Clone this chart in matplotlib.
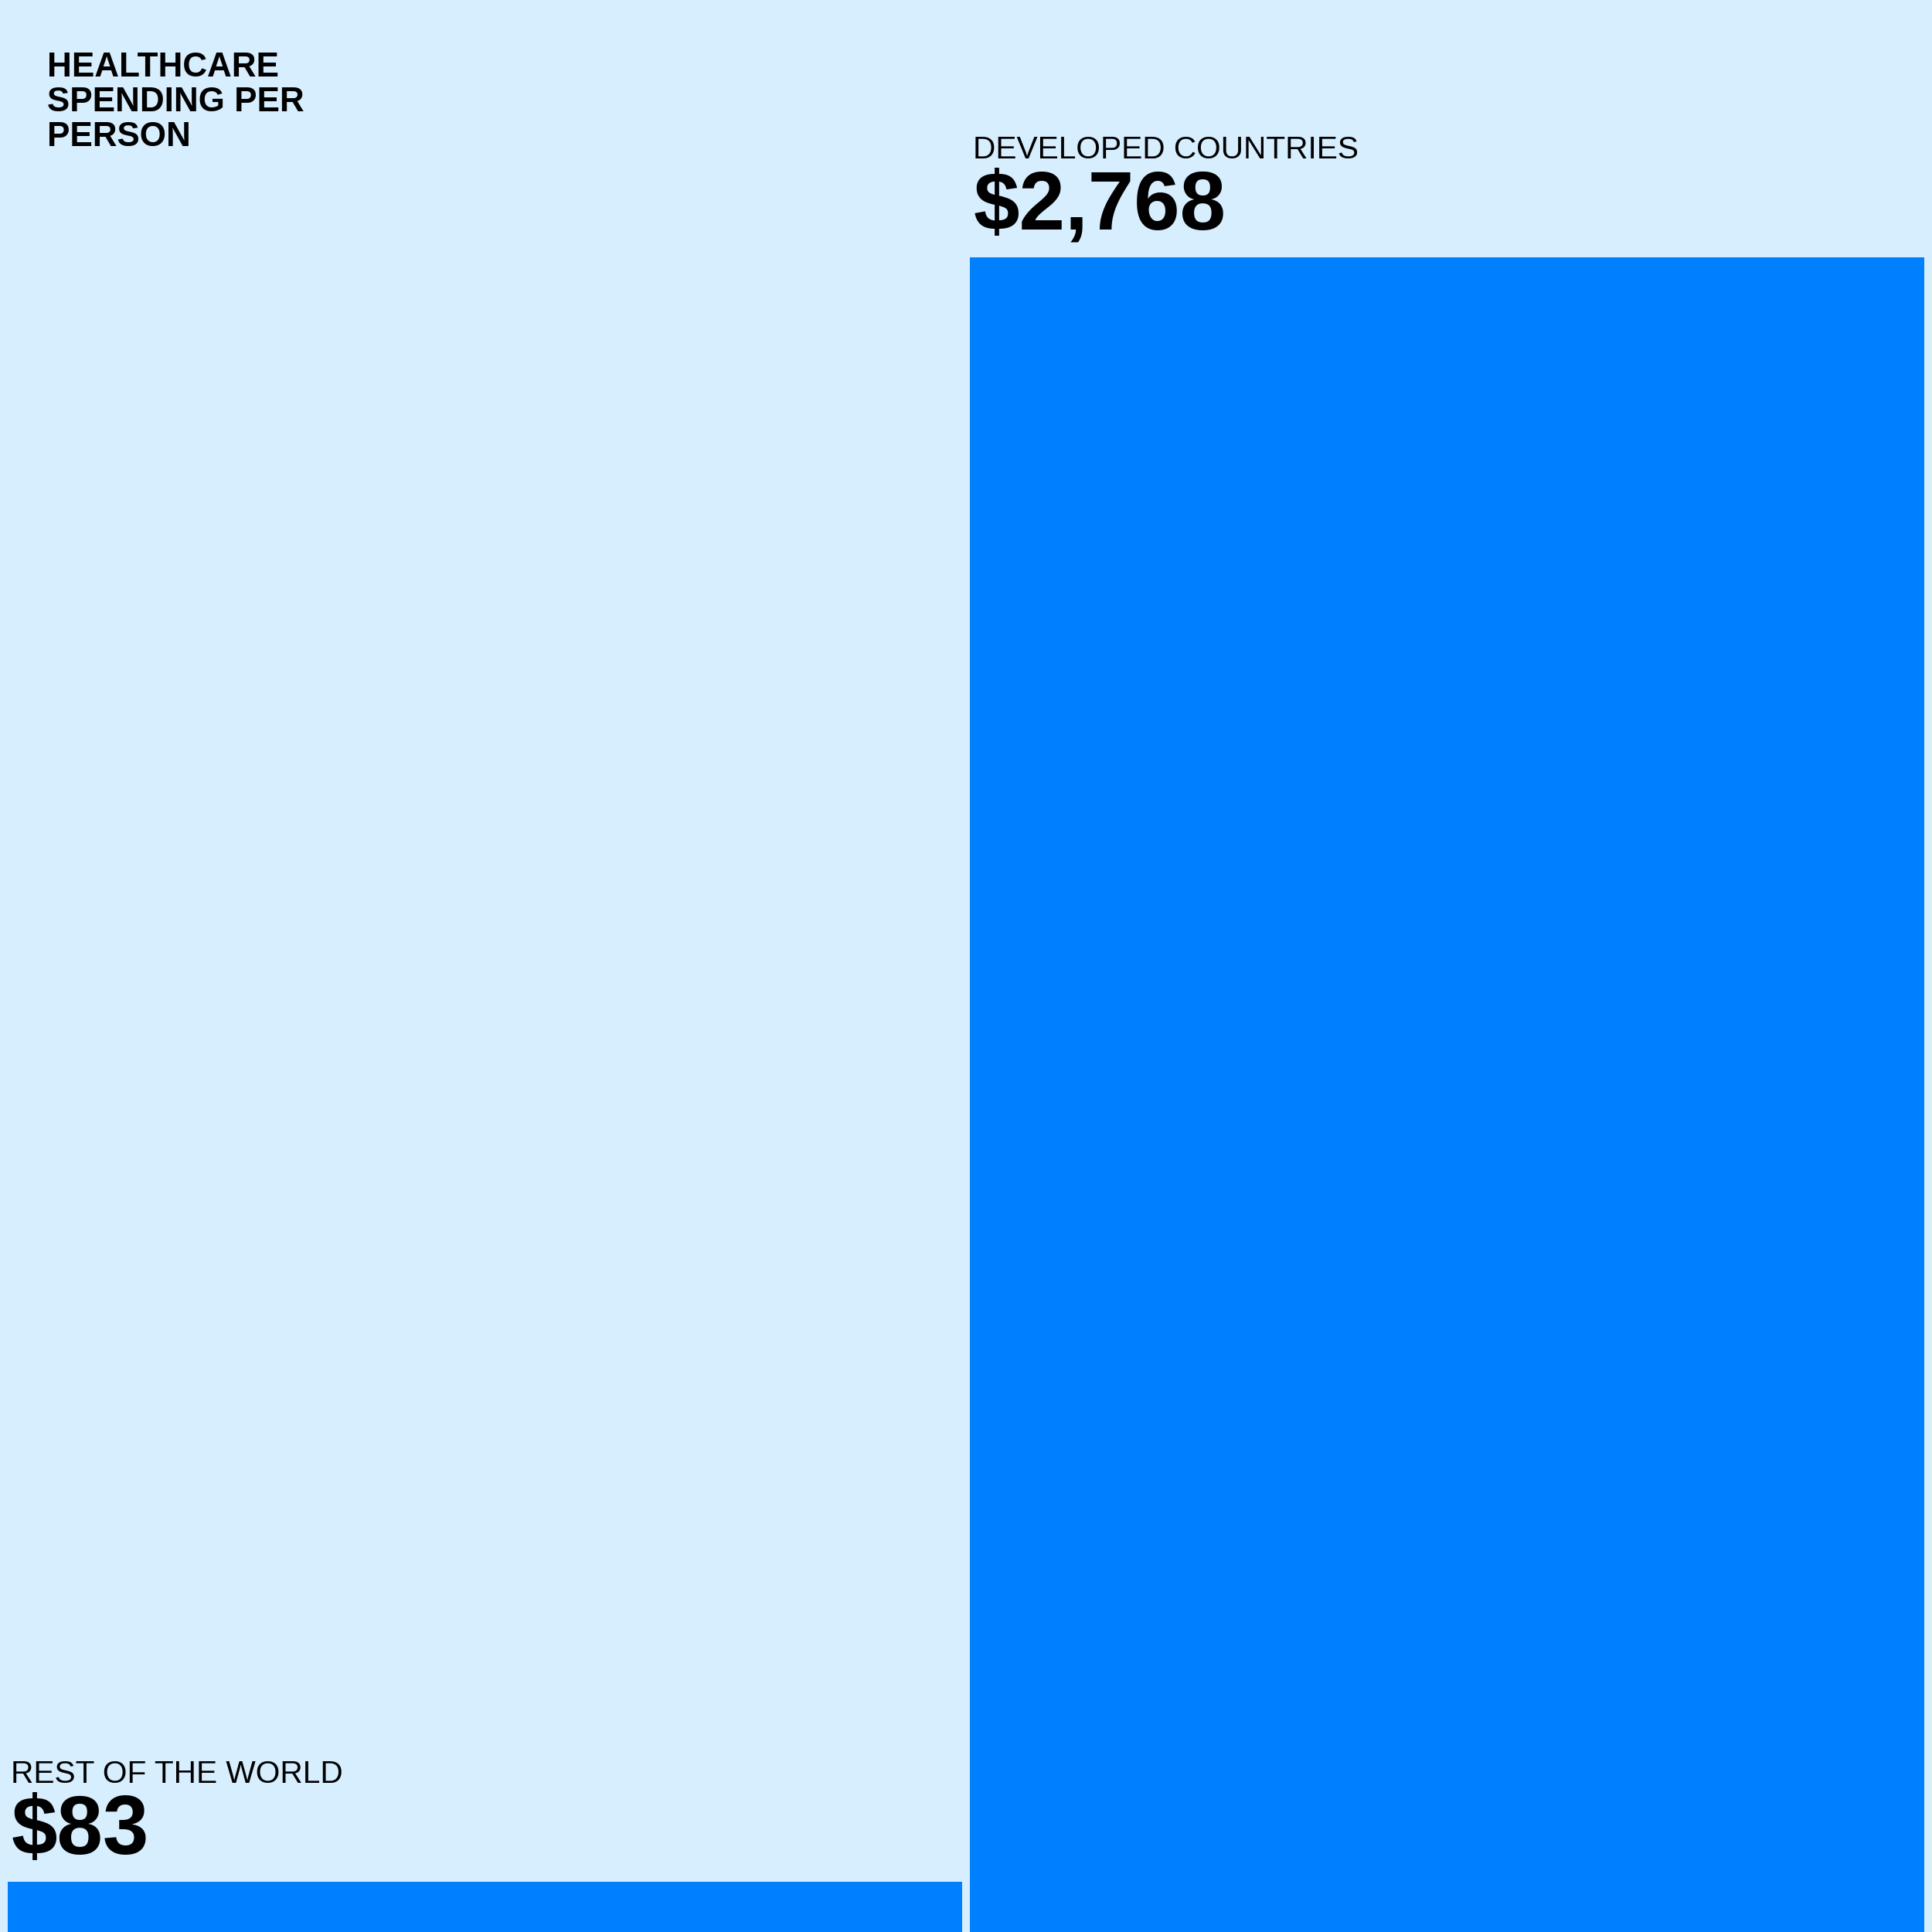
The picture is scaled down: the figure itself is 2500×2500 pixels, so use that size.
import matplotlib
matplotlib.use('Agg')
import matplotlib.pyplot as plt

groups = ["REST OF THE WORLD", "DEVELOPED COUNTRIES"]
spending = [83, 2768]
value_labels = ["$83", "$2,768"]
title = "HEALTHCARE\nSPENDING PER\nPERSON"

bg = '#D7EEFF'
bar_color = '#0080FF'
plt.rcParams['font.family'] = ['Liberation Sans', 'DejaVu Sans']

fig = plt.figure(figsize=(10, 10), dpi=250, facecolor=bg)
ax = fig.add_axes([0, 0, 1, 1])
ax.set_facecolor(bg)

w = 0.992
xs = range(len(groups))
ax.bar(xs, spending, width=w, color=bar_color, linewidth=0)
ax.set_xlim(-0.504, 1.504)
ax.set_ylim(0, 3193)
ax.axis('off')

for x, val, name, lab in zip(xs, spending, groups, value_labels):
    left = x - w / 2
    ax.annotate(lab, xy=(left, val), xytext=(1.2, 10.4), textcoords='offset points',
                ha='left', va='baseline', fontsize=30.8, fontweight='bold', color='black')
    ax.annotate(name, xy=(left, val), xytext=(1.2, 36.8), textcoords='offset points',
                ha='left', va='baseline', fontsize=11.7, color='black')

fig.text(61 / 2500, 1 - 67 / 2500, title, ha='left', va='top', fontsize=12.7,
         fontweight='bold', linespacing=1.13, color='black')

fig.savefig('out.png', dpi=250, facecolor=bg)
